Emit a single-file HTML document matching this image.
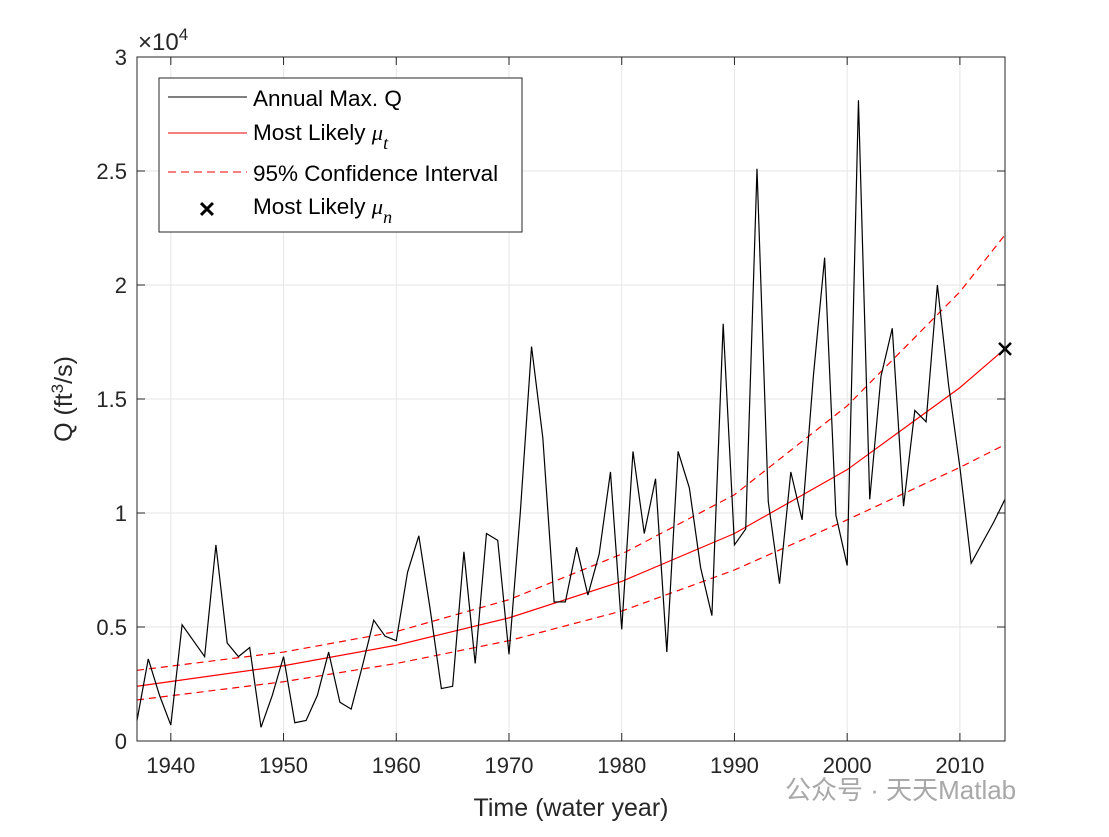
<!DOCTYPE html>
<html><head><meta charset="utf-8"><style>
body{margin:0;background:#fff;}
svg text{font-family:"Liberation Sans",Arial,sans-serif;fill:#262626;}
</style></head><body>
<svg id="chart" width="1109" height="832" xmlns="http://www.w3.org/2000/svg">
<rect width="1109" height="832" fill="#fff"/>
<g id="grid"></g>
<g id="series"></g>
<rect x="137" y="57" width="868" height="684" fill="none" stroke="#262626" stroke-width="1"/>
<g id="axes"></g>
<text x="138" y="50" font-size="24">×10<tspan dy="-10" font-size="17">4</tspan></text>
<text x="571" y="816" font-size="25" text-anchor="middle">Time (water year)</text>
<text transform="translate(72,399) rotate(-90)" font-size="25" text-anchor="middle">Q (ft<tspan dy="-9" font-size="17">3</tspan><tspan dy="9">/s)</tspan></text>
<g>
<rect x="159" y="78" width="363" height="154" fill="#fff" stroke="#262626" stroke-width="1"/>
<line x1="168" y1="97" x2="247" y2="97" stroke="#000" stroke-width="1"/>
<text x="253" y="106" font-size="22.5" fill="#000" style="fill:#000">Annual Max. Q</text>
<line x1="168" y1="133" x2="247" y2="133" stroke="#e00" stroke-width="1"/>
<text x="253" y="140" font-size="22.5" style="fill:#000">Most Likely <tspan font-family="Liberation Serif" font-style="italic">μ</tspan><tspan dy="9" font-family="Liberation Serif" font-style="italic" font-size="18">t</tspan></text>
<line x1="168" y1="172" x2="247" y2="172" stroke="#e00" stroke-width="1" stroke-dasharray="8,5"/>
<text x="253" y="181" font-size="22.5" style="fill:#000">95% Confidence Interval</text>
<text x="207" y="217" font-size="22" font-weight="bold" style="fill:#000" text-anchor="middle">✕</text>
<text x="253" y="214" font-size="22.5" style="fill:#000">Most Likely <tspan font-family="Liberation Serif" font-style="italic">μ</tspan><tspan dy="9" font-family="Liberation Serif" font-style="italic" font-size="18">n</tspan></text>
</g>
<text x="785" y="799" font-size="26" style="fill:#a8a8a8" font-family="Liberation Sans, Noto Sans CJK SC, sans-serif">公众号 · 天天Matlab</text>
</svg>
<script>
const years=[];for(let y=1937;y<=2014;y++)years.push(y);
const annualQ=[0.09,0.36,0.2,0.07,0.51,0.44,0.37,0.86,0.43,0.37,0.41,0.06,0.2,0.37,0.08,0.09,0.2,0.39,0.17,0.14,0.33,0.53,0.46,0.44,0.74,0.9,0.58,0.23,0.24,0.83,0.34,0.91,0.88,0.38,1.0,1.73,1.33,0.61,0.61,0.85,0.64,0.82,1.18,0.49,1.27,0.91,1.15,0.39,1.27,1.11,0.76,0.55,1.83,0.86,0.93,2.51,1.05,0.69,1.18,0.97,1.6,2.12,0.99,0.77,2.81,1.06,1.6,1.81,1.03,1.45,1.4,2.0,1.56,1.2,0.78,0.87,0.96,1.06];
const curveYears=[1937,1950,1960,1970,1980,1990,2000,2010,2014];
const muT=[0.24,0.33,0.42,0.54,0.70,0.91,1.19,1.55,1.72];
const ciUpper=[0.31,0.39,0.48,0.62,0.82,1.08,1.47,1.97,2.22];
const ciLower=[0.18,0.26,0.34,0.44,0.57,0.75,0.97,1.20,1.30];
const muN={year:2014,value:1.72};
const xTicks=[1940,1950,1960,1970,1980,1990,2000,2010];
const yTicks=[0,0.5,1,1.5,2,2.5,3];
const yTickLabels=['0','0.5','1','1.5','2','2.5','3'];
const X0=137,X1=1005,Y0=741,Y1=57;
const xs=v=>X0+(v-1937)/(2014-1937)*(X1-X0);
const ys=v=>Y0-(v/3)*(Y0-Y1);
const NS='http://www.w3.org/2000/svg';
function mk(t,a,p){const e=document.createElementNS(NS,t);for(const k in a)e.setAttribute(k,a[k]);p.appendChild(e);return e;}
const grid=document.getElementById('grid'),axes=document.getElementById('axes'),ser=document.getElementById('series');
xTicks.forEach(t=>{const x=xs(t);
 const g=mk('line',{x1:x,x2:x,y1:Y1,y2:Y0,stroke:'#e6e6e6'},grid);
 
 const a=mk('line',{x1:x,x2:x,y1:Y0,y2:Y0-8,stroke:'#262626'},axes);
 
 const b=mk('line',{x1:x,x2:x,y1:Y1,y2:Y1+8,stroke:'#262626'},axes);
 
 const tx=mk('text',{x:x,y:Y0+32,'font-size':22,'text-anchor':'middle'},axes);tx.textContent=t;
 });
yTicks.forEach((t,i)=>{const y=ys(t);
 const g=mk('line',{x1:X0,x2:X1,y1:y,y2:y,stroke:'#e6e6e6'},grid);
 
 const a=mk('line',{x1:X0,x2:X0+8,y1:y,y2:y,stroke:'#262626'},axes);
 
 const b=mk('line',{x1:X1,x2:X1-8,y1:y,y2:y,stroke:'#262626'},axes);
 
 const tx=mk('text',{x:X0-10,y:y+8,'font-size':22,'text-anchor':'end'},axes);tx.textContent=yTickLabels[i];
 });
function poly(xv,yv,attrs,name){const p=mk('polyline',Object.assign({points:xv.map((x,i)=>xs(x)+','+ys(yv[i])).join(' '),fill:'none'},attrs),ser);
 }
poly(curveYears,ciUpper,{stroke:'#f00','stroke-width':1.2,'stroke-dasharray':'7,5'},'ci-upper-line');
poly(curveYears,ciLower,{stroke:'#f00','stroke-width':1.2,'stroke-dasharray':'7,5'},'ci-lower-line');
poly(curveYears,muT,{stroke:'#f00','stroke-width':1.2},'mu-t-line');
poly(years,annualQ,{stroke:'#000','stroke-width':1.2},'annual-max-q-line');
const mx=xs(muN.year),my=ys(muN.value);
const m=mk('path',{d:`M${mx-6},${my-6}L${mx+6},${my+6}M${mx-6},${my+6}L${mx+6},${my-6}`,stroke:'#000','stroke-width':2.5},ser);

</script>
</body></html>
